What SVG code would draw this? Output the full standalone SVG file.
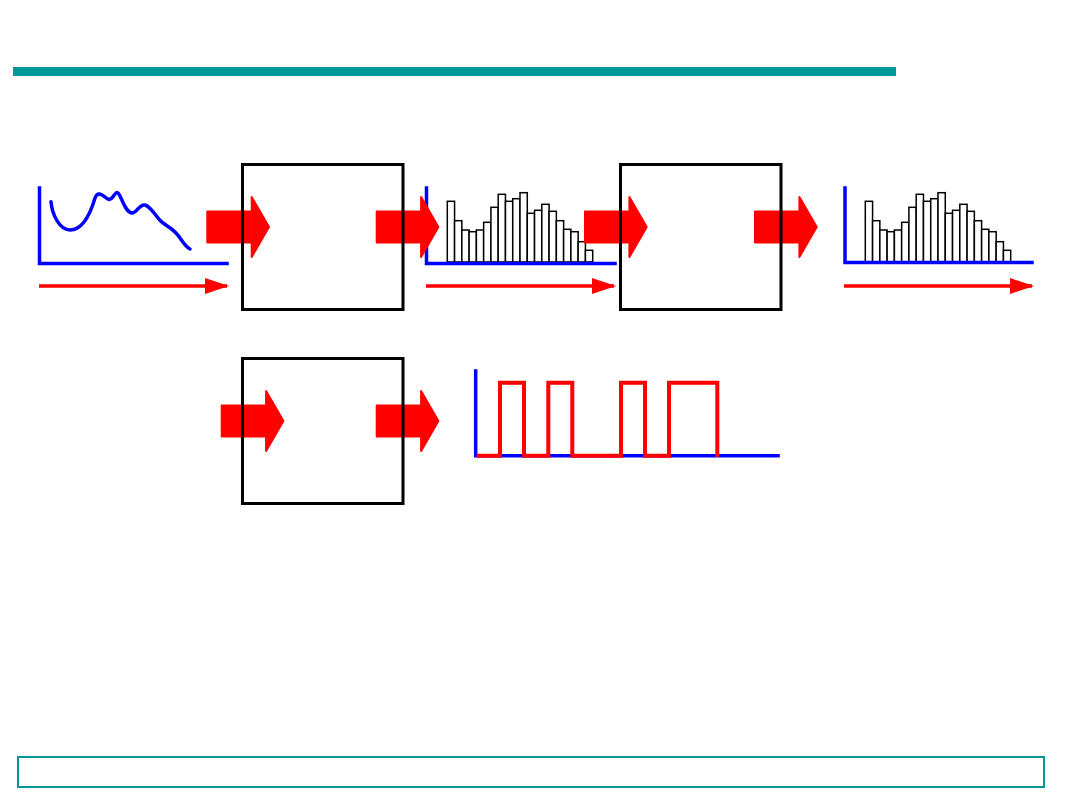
<svg xmlns="http://www.w3.org/2000/svg" width="1080" height="810" viewBox="0 0 1080 810">
<style>
.axis{fill:none;stroke:#0000ff;stroke-width:3.5;stroke-linecap:square}
.bar{fill:#ffffff;stroke:#000000;stroke-width:1.5}
.box{fill:none;stroke:#000000;stroke-width:3}
.blk{fill:#ff0000;stroke:#ff0000;stroke-width:2;stroke-linejoin:round}
.rline{fill:none;stroke:#ff0000;stroke-width:3.5}
.sig{fill:none;stroke:#ff0000;stroke-width:4;stroke-linejoin:miter}
</style>
<defs>
<marker id="ah" viewBox="0 0 24 16" refX="22" refY="8" markerWidth="24" markerHeight="16" markerUnits="userSpaceOnUse" orient="auto">
<path d="M0,0 L24,8 L0,16 Z" fill="#ff0000"/>
</marker>
<path id="blockArrow" class="blk" d="M0,-15.5 H44.4 V-30 L61.7,0 L44.4,30 V15.5 H0 Z"/>
<g id="histBars">
<rect class="bar" x="0" y="201.3" width="7.27" height="60.7"/>
<rect class="bar" x="7.27" y="220.7" width="7.27" height="41.3"/>
<rect class="bar" x="14.54" y="230" width="7.27" height="32"/>
<rect class="bar" x="21.81" y="231.7" width="7.27" height="30.3"/>
<rect class="bar" x="29.08" y="230" width="7.27" height="32"/>
<rect class="bar" x="36.35" y="222.3" width="7.27" height="39.7"/>
<rect class="bar" x="43.62" y="207.3" width="7.27" height="54.7"/>
<rect class="bar" x="50.89" y="194.3" width="7.27" height="67.7"/>
<rect class="bar" x="58.16" y="201.3" width="7.27" height="60.7"/>
<rect class="bar" x="65.43" y="198.7" width="7.27" height="63.3"/>
<rect class="bar" x="72.7" y="192.7" width="7.27" height="69.3"/>
<rect class="bar" x="79.97" y="213.3" width="7.27" height="48.7"/>
<rect class="bar" x="87.24" y="210.3" width="7.27" height="51.7"/>
<rect class="bar" x="94.51" y="204.3" width="7.27" height="57.7"/>
<rect class="bar" x="101.78" y="211.3" width="7.27" height="50.7"/>
<rect class="bar" x="109.05" y="220.7" width="7.27" height="41.3"/>
<rect class="bar" x="116.32" y="229.3" width="7.27" height="32.7"/>
<rect class="bar" x="123.59" y="231.7" width="7.27" height="30.3"/>
<rect class="bar" x="130.86" y="241.7" width="7.27" height="20.3"/>
<rect class="bar" x="138.13" y="250.3" width="7.27" height="11.7"/>
</g>
</defs>

<rect id="title-bar" x="13" y="67" width="883" height="9" fill="#009999"/>
<rect id="footer-box" x="18" y="757" width="1026" height="30" fill="none" stroke="#009999" stroke-width="2"/>

<g id="plot-analog">
<path class="axis" d="M39.5,188 V263.5 H227"/>
<path d="M51,201.7 C52,215 60,230 70,230 C82,230 90,215 95,198 C98,190 103,196 108,199 C113,202 115,189 118.5,193.5 C122,198 125,212 132,213 C137,213 139,204 145,205 C152,207 156,218 163,223 C170,228 175,230 180,238 C184,244 186,247 190,249" fill="none" stroke="#0000ff" stroke-width="3.5" stroke-linecap="round"/>
<line class="rline" x1="39" y1="286" x2="227" y2="286" marker-end="url(#ah)"/>
</g>

<g id="plot-sampled">
<use href="#histBars" x="447.3"/>
<path class="axis" d="M426.5,188 V263.5 H615"/>
<line class="rline" x1="426" y1="286" x2="614" y2="286" marker-end="url(#ah)"/>
</g>

<g id="plot-quantized">
<use href="#histBars" x="865.3"/>
<path class="axis" d="M845,188 V262.5 H1032"/>
<line class="rline" x1="844" y1="286" x2="1032" y2="286" marker-end="url(#ah)"/>
</g>

<g id="plot-digital">
<path class="axis" d="M475.7,371 V455.7 H778"/>
<path class="sig" d="M476.7,455.7 H500 V382.7 H524 V455.7 H548.3 V382.7 H572.3 V455.7 H621 V382.7 H645 V455.7 H669 V382.7 H717.3 V457"/>
</g>

<g id="connectors">
<use href="#blockArrow" x="207.3" y="227"/>
<use href="#blockArrow" x="376.7" y="227"/>
<use href="#blockArrow" x="585" y="227"/>
<use href="#blockArrow" x="755" y="227"/>
<use href="#blockArrow" x="221.7" y="421"/>
<use href="#blockArrow" x="376.7" y="421"/>
</g>

<g id="block-sampler"><rect class="box" x="242.5" y="164.5" width="160.5" height="145"/></g>
<g id="block-quantizer"><rect class="box" x="620.5" y="164.5" width="160.5" height="145"/></g>
<g id="block-encoder"><rect class="box" x="242.5" y="358.5" width="160.5" height="145"/></g>
</svg>
